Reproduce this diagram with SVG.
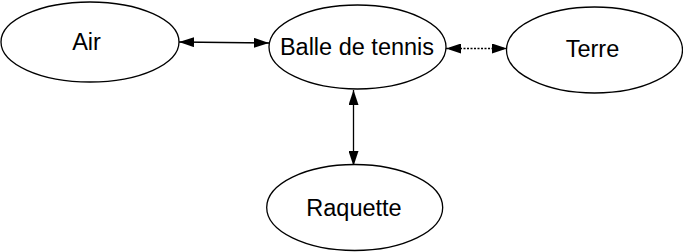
<svg xmlns="http://www.w3.org/2000/svg" width="683" height="252" viewBox="0 0 683 252">
<defs>
<style>
.node ellipse{fill:#fff;stroke:#000;stroke-width:1.3}
.node text{font-family:"Liberation Sans",Arial,sans-serif;font-size:23.5px;fill:#000;text-anchor:middle}
.edge{stroke:#000;stroke-width:1.3;fill:none}
.dot{stroke-dasharray:2 1.5}
</style>
<marker id="ah" viewBox="0 0 15 10" refX="15" refY="5" markerWidth="15" markerHeight="10" markerUnits="userSpaceOnUse" orient="auto-start-reverse">
<path d="M0,0 L15,5 L0,10 Z" fill="#000"/>
</marker>
</defs>
<g id="edges">
<line class="edge" x1="179" y1="42" x2="269" y2="43" marker-start="url(#ah)" marker-end="url(#ah)"/>
<line class="edge dot" x1="446" y1="48.5" x2="507" y2="48.5" marker-start="url(#ah)" marker-end="url(#ah)"/>
<line class="edge" x1="353.5" y1="90" x2="353.5" y2="166" marker-start="url(#ah)" marker-end="url(#ah)"/>
</g>
<g id="air" class="node">
<ellipse cx="90" cy="42" rx="89" ry="40"/>
<text x="86.5" y="50">Air</text>
</g>
<g id="balle" class="node">
<ellipse cx="357.5" cy="47" rx="88.5" ry="42"/>
<text x="357" y="55">Balle de tennis</text>
</g>
<g id="terre" class="node">
<ellipse cx="594.5" cy="50" rx="88" ry="43"/>
<text x="592.5" y="57">Terre</text>
</g>
<g id="raquette" class="node">
<ellipse cx="354.7" cy="207.5" rx="88" ry="43"/>
<text x="354" y="216">Raquette</text>
</g>
</svg>
